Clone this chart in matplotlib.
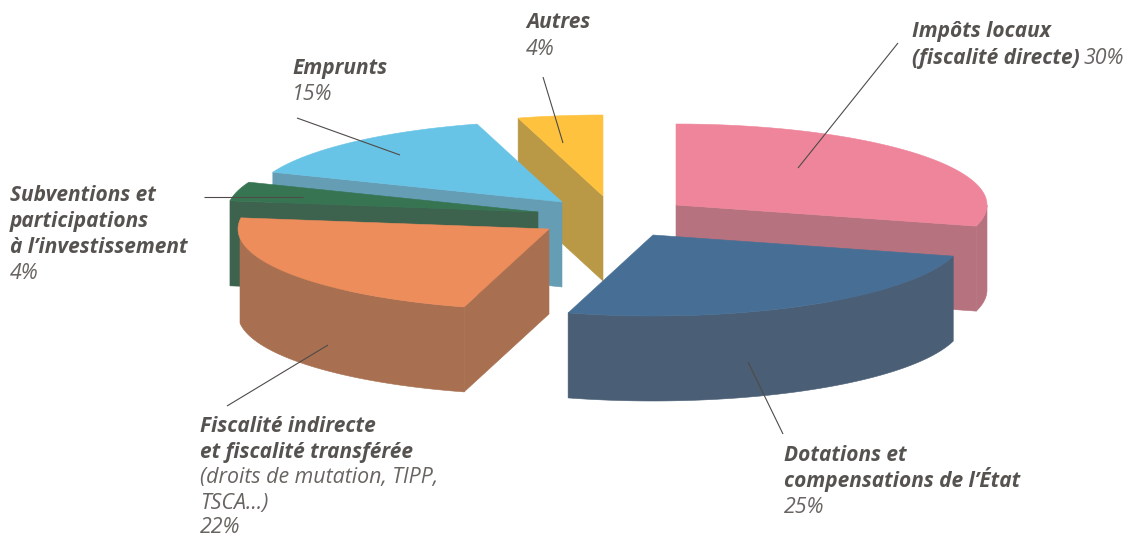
import numpy as np
import matplotlib
matplotlib.use('Agg')
import matplotlib.pyplot as plt

# shares (printed labels are rounded)
names = ['Impôts locaux', 'Dotations', 'Fiscalité indirecte', 'Subventions', 'Emprunts', 'Autres']
shares = [29.2, 25.2, 22.8, 3.8, 14.6, 4.4]
top_colors = ['#EE859B', '#476F95', '#EE8D5C', '#377552', '#68C4E6', '#FFC23F']
side_colors = ['#B6727E', '#4A5E75', '#A87050', '#3D634E', '#659DB5', '#BA9946']

# exploded position of each slice apex, in pixels
centers = [(676, 205), (653, 235), (549, 229), (538, 212), (562, 202), (603, 196)]
RX = 311
RY = 81
DEPTH = 85

# (x, y baseline, text, bold)
label_lines = [
    (912, 37, 'Impôts locaux', True),
    (912, 64, '(fiscalité directe)', True),
    (526, 28, 'Autres', True),
    (526, 55, '4%', False),
    (292, 74, 'Emprunts', True),
    (292, 100, '15%', False),
    (10, 201, 'Subventions et', True),
    (10, 227, 'participations', True),
    (10, 253, 'à l’investissement', True),
    (10, 279, '4%', False),
    (200, 432, 'Fiscalité indirecte', True),
    (200, 458, 'et fiscalité transférée', True),
    (200, 483, '(droits de mutation, TIPP,', False),
    (200, 509, 'TSCA…)', False),
    (200, 533, '22%', False),
    (784, 461, 'Dotations et', True),
    (784, 487, 'compensations de l’État', True),
    (784, 513, '25%', False),
]
leaders = [
    ((898, 43), (798, 168)),
    ((543, 77), (563, 143)),
    ((297, 118), (400, 155)),
    ((204, 197), (303, 197)),
    ((227, 406), (328, 345)),
    ((783, 434), (748, 362)),
]
BOLD_COLOR = '#565250'
REG_COLOR = '#686461'


def arc(i, a0, a1, dy=0):
    t = np.radians(np.linspace(a0, a1, 80))
    cx, cy = centers[i]
    return cx + RX * np.sin(t), cy - RY * np.cos(t) + dy


def pt(i, a, dy=0):
    x, y = arc(i, a, a, dy)
    return x[0], y[0]


def poly(ax, xs, ys, color):
    ax.fill(xs, ys, facecolor=color, edgecolor=color, linewidth=0.4)


def cut_face(ax, i, a):
    # flat face between the apex and the rim at angle a
    cx, cy = centers[i]
    x, y = pt(i, a)
    poly(ax, [cx, x, x, cx], [cy, y, y + DEPTH, cy + DEPTH], side_colors[i])


def rim(ax, i, a0, a1):
    x, y = arc(i, a0, a1)
    xb, yb = arc(i, a1, a0, DEPTH)
    poly(ax, np.r_[x, xb], np.r_[y, yb], side_colors[i])


def top(ax, i, a0, a1):
    x, y = arc(i, a0, a1)
    cx, cy = centers[i]
    poly(ax, np.r_[cx, x], np.r_[cy, y], top_colors[i])


plt.rcParams['font.family'] = ['Open Sans', 'DejaVu Sans']
fig = plt.figure(figsize=(11.32, 5.37), dpi=100)
ax = fig.add_axes([0, 0, 1, 1])
ax.set_xlim(0, 1132)
ax.set_ylim(537, 0)
ax.axis('off')

edges = np.r_[0, np.cumsum(shares)] * 3.6
a = list(zip(edges[:-1], edges[1:]))

# back to front: yellow, light blue, green, pink, orange, blue
cut_face(ax, 5, a[5][0])
top(ax, 5, *a[5])

cut_face(ax, 4, a[4][0])
top(ax, 4, *a[4])

cut_face(ax, 3, a[3][0])
top(ax, 3, *a[3])

cut_face(ax, 0, a[0][1])
rim(ax, 0, 90, a[0][1])
top(ax, 0, *a[0])

cut_face(ax, 2, a[2][0])
rim(ax, 2, a[2][0], 263.5)
top(ax, 2, *a[2])

rim(ax, 1, *a[1])
top(ax, 1, *a[1])

for p0, p1 in leaders:
    ax.plot([p0[0], p1[0]], [p0[1], p1[1]], color='#4F4B49', lw=0.8, solid_capstyle='butt')

FS_BOLD = 15
FS_REG = 15.4
for x, y, s, bold in label_lines:
    ax.text(x, y, s, fontsize=FS_BOLD if bold else FS_REG, style='italic',
            color=BOLD_COLOR if bold else REG_COLOR,
            va='baseline', fontweight='bold' if bold else 'normal')

# 30% follows the bold text on the same line
r = fig.canvas.get_renderer()
t = ax.text(912, 64, '(fiscalité directe)', fontsize=FS_BOLD, style='italic', fontweight='bold', alpha=0)
w = t.get_window_extent(r).width
ax.text(912 + w + 4, 64, '30%', fontsize=FS_REG, style='italic', color=REG_COLOR, fontweight='normal')

fig.savefig('out.png', dpi=100)
